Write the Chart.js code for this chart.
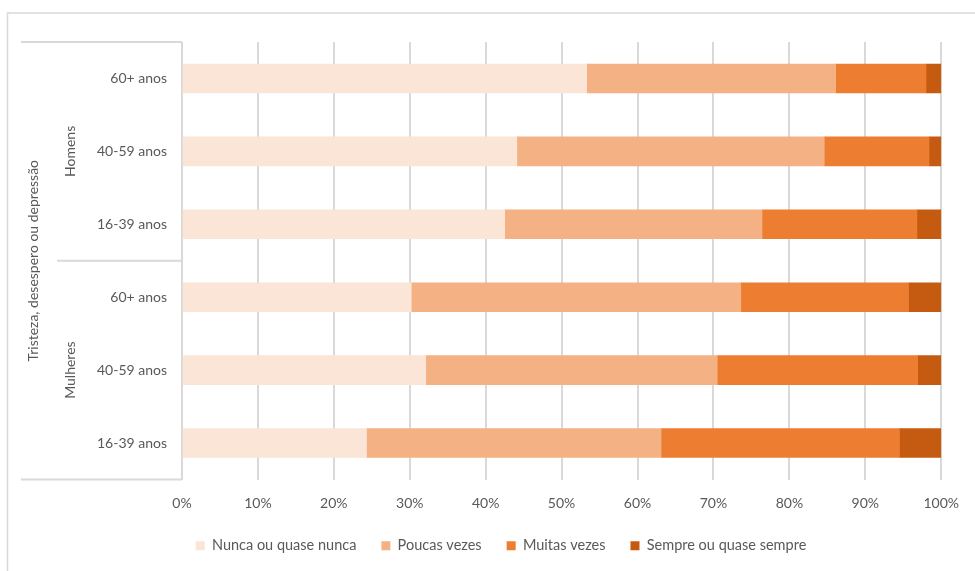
<!DOCTYPE html>
<html lang="pt">
<head>
<meta charset="utf-8">
<title>Tristeza, desespero ou depressão</title>
<script src="https://cdn.jsdelivr.net/npm/chart.js@4"></script>
<style>
  html, body { margin: 0; padding: 0; background: #fff; }
  #wrap { width: 975px; height: 571px; position: relative; }
</style>
</head>
<body>
<div id="wrap"><canvas id="chart"></canvas></div>
<script>
// rows, top to bottom
const ageLabels = ['60+ anos', '40-59 anos', '16-39 anos', '60+ anos', '40-59 anos', '16-39 anos'];
const groupLabels = ['Homens', 'Mulheres'];
const sectionLabel = 'Tristeza, desespero ou depressão';

const seriesNames = ['Nunca ou quase nunca', 'Poucas vezes', 'Muitas vezes', 'Sempre ou quase sempre'];
const nunca  = [53.3, 44.1, 42.5, 30.2, 32.1, 24.3];
const poucas = [32.8, 40.5, 33.9, 43.4, 38.4, 38.8];
const muitas = [11.9, 13.8, 20.4, 22.1, 26.4, 31.4];
const sempre = [2.0, 1.6, 3.2, 4.3, 3.1, 5.5];

const xTicks = [0, 10, 20, 30, 40, 50, 60, 70, 80, 90, 100];

const colors = ['#FBE5D6', '#F4B183', '#ED7D31', '#C55A11'];
const textColor = '#595959';
const lineColor = '#d9d9d9';
const fontFamily = 'Lato, "Open Sans", sans-serif';

// frame, group separators and rotated group titles on the left
const groupAxis = {
  id: 'groupAxis',
  beforeDraw(chart) {
    const ctx = chart.ctx;
    ctx.save();
    ctx.strokeStyle = lineColor;
    ctx.lineWidth = 1.5;
    ctx.beginPath();
    ctx.moveTo(7.5, chart.height);
    ctx.lineTo(7.5, 13);
    ctx.lineTo(chart.width, 13);
    ctx.stroke();
    ctx.restore();
  },
  afterDraw(chart) {
    const ctx = chart.ctx;
    const area = chart.chartArea;
    const y = chart.scales.y;
    const mid = (y.getPixelForValue(2) + y.getPixelForValue(3)) / 2;

    ctx.save();
    ctx.strokeStyle = lineColor;
    ctx.lineWidth = 2;
    ctx.beginPath();
    ctx.moveTo(21, area.top);
    ctx.lineTo(area.left, area.top);
    ctx.moveTo(21, area.bottom);
    ctx.lineTo(area.left, area.bottom);
    ctx.moveTo(57, mid);
    ctx.lineTo(area.left, mid);
    ctx.stroke();

    ctx.fillStyle = textColor;
    ctx.textAlign = 'center';
    ctx.textBaseline = 'middle';
    ctx.font = '14px ' + fontFamily;

    const rotated = (text, x, cy) => {
      ctx.save();
      ctx.translate(x, cy);
      ctx.rotate(-Math.PI / 2);
      ctx.fillText(text, 0, 0);
      ctx.restore();
    };

    rotated(sectionLabel, 33, (area.top + area.bottom) / 2);
    groupLabels.forEach((g, i) => {
      const cy = (y.getPixelForValue(i * 3) + y.getPixelForValue(i * 3 + 2)) / 2;
      rotated(g, 70, cy);
    });
    ctx.restore();
  }
};

const datasets = [nunca, poucas, muitas, sempre].map((vals, i) => ({
  label: seriesNames[i],
  data: vals,
  backgroundColor: colors[i],
  borderWidth: 0,
  barThickness: 29
}));

new Chart(document.getElementById('chart'), {
  type: 'bar',
  data: { labels: ageLabels, datasets: datasets },
  options: {
    indexAxis: 'y',
    responsive: true,
    maintainAspectRatio: false,
    animation: false,
    layout: { padding: { top: 42, right: 33, left: 60, bottom: 8 } },
    scales: {
      x: {
        stacked: true,
        min: 0,
        max: 100,
        afterBuildTicks: (scale) => { scale.ticks = xTicks.map(v => ({ value: v })); },
        afterFit: (scale) => { scale.height = 34; },
        grid: { color: lineColor, lineWidth: 2, drawTicks: false },
        border: { display: false },
        ticks: {
          padding: 16,
          color: textColor,
          font: { family: fontFamily, size: 14 },
          callback: (v) => v + '%'
        }
      },
      y: {
        stacked: true,
        afterFit: (scale) => { scale.width = 122; },
        grid: { display: false, drawTicks: false },
        border: { display: false },
        ticks: {
          padding: 15,
          color: textColor,
          font: { family: fontFamily, size: 14 }
        }
      }
    },
    plugins: {
      legend: {
        position: 'bottom',
        labels: {
          boxWidth: 9,
          boxHeight: 9,
          padding: 25,
          color: textColor,
          font: { family: fontFamily, size: 14.5 }
        }
      },
      tooltip: { enabled: false }
    }
  },
  plugins: [groupAxis]
});
</script>
</body>
</html>
